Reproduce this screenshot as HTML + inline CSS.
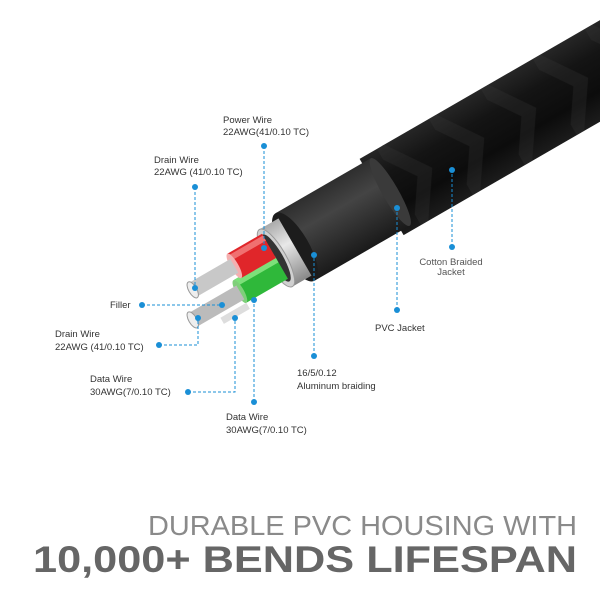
<!DOCTYPE html>
<html><head><style>
html,body{margin:0;padding:0;background:#fff;width:600px;height:600px;overflow:hidden}
svg{display:block}
text{font-family:"Liberation Sans",sans-serif}
</style></head><body>
<svg width="600" height="600" viewBox="0 0 600 600" xmlns="http://www.w3.org/2000/svg">
<defs>
<linearGradient id="braid" x1="0" y1="-44" x2="0" y2="44" gradientUnits="userSpaceOnUse">
<stop offset="0" stop-color="#262626"/><stop offset="0.3" stop-color="#141414"/><stop offset="0.7" stop-color="#0c0c0c"/><stop offset="1" stop-color="#1c1c1c"/></linearGradient>
<linearGradient id="pvc" x1="0" y1="-39" x2="0" y2="39" gradientUnits="userSpaceOnUse">
<stop offset="0" stop-color="#2e2e2e"/><stop offset="0.35" stop-color="#444"/><stop offset="0.75" stop-color="#2a2a2a"/><stop offset="1" stop-color="#1a1a1a"/></linearGradient>
<linearGradient id="al" x1="0" y1="-33" x2="0" y2="33" gradientUnits="userSpaceOnUse">
<stop offset="0" stop-color="#aaa"/><stop offset="0.4" stop-color="#e8e8e8"/><stop offset="1" stop-color="#888"/></linearGradient>
<pattern id="weave" width="60" height="88" patternUnits="userSpaceOnUse" y="-44">
<path d="M0 0 L30 44 L0 88" fill="none" stroke="#3a3a3a" stroke-width="14" opacity="0.25"/>
</pattern>
</defs>
<g transform="translate(295,247) rotate(-30)">
  <rect x="100" y="-44" width="400" height="88" fill="url(#braid)"/>
  <rect x="100" y="-44" width="400" height="88" fill="url(#weave)"/>
  <rect x="0" y="-39" width="110" height="78" fill="url(#pvc)"/>
  <ellipse cx="110" cy="0" rx="8" ry="39" fill="#3a3a3a"/>
  <ellipse cx="0" cy="0" rx="14" ry="39" fill="#1c1c1c"/>
  <rect x="-22" y="-33" width="22" height="66" fill="url(#al)"/>
  <ellipse cx="-22" cy="0" rx="10" ry="33" fill="#d0d0d0" stroke="#999"/>
  <ellipse cx="-22" cy="0" rx="7" ry="27" fill="#333"/>
  <!-- wires -->
  <rect x="-70" y="-2" width="48" height="26" fill="#2fb83a"/>
  <rect x="-70" y="-2" width="48" height="7" fill="#7de07a"/>
  <ellipse cx="-70" cy="11" rx="4" ry="13" fill="#7fcf7a"/>
  <rect x="-62" y="-28" width="40" height="28" fill="#e0262a"/>
  <rect x="-62" y="-26" width="40" height="6" fill="#f07070"/>
  <ellipse cx="-62" cy="-14" rx="4" ry="14" fill="#f4b0b0"/>
  <rect x="-110" y="-22" width="48" height="16" fill="#c8c8c8"/>
  <ellipse cx="-110" cy="-14" rx="4" ry="9" fill="#eee" stroke="#999"/>
  <rect x="-125" y="4" width="55" height="16" fill="#bbb"/>
  <ellipse cx="-125" cy="12" rx="4" ry="9" fill="#eee" stroke="#999"/>
  <rect x="-100" y="24" width="30" height="7" fill="#ddd"/>
</g>
<g stroke="#1a8fd6" stroke-width="1" stroke-dasharray="3,2" fill="none">
  <path d="M264 146 V248"/>
  <path d="M195 187 V288"/>
  <path d="M142 305 H222"/>
  <path d="M159 345 H198 V318"/>
  <path d="M188 392 H235 V318"/>
  <path d="M254 402 V300"/>
  <path d="M314 356 V255"/>
  <path d="M397 310 V208"/>
  <path d="M452 247 V170"/>
</g>
<g fill="#1a8fd6">
  <circle cx="264" cy="146" r="3"/><circle cx="264" cy="248" r="3"/>
  <circle cx="195" cy="187" r="3"/><circle cx="195" cy="288" r="3"/>
  <circle cx="142" cy="305" r="3"/><circle cx="222" cy="305" r="3"/>
  <circle cx="159" cy="345" r="3"/><circle cx="198" cy="318" r="3"/>
  <circle cx="188" cy="392" r="3"/><circle cx="235" cy="318" r="3"/>
  <circle cx="254" cy="402" r="3"/><circle cx="254" cy="300" r="3"/>
  <circle cx="314" cy="356" r="3"/><circle cx="314" cy="255" r="3"/>
  <circle cx="397" cy="310" r="3"/><circle cx="397" cy="208" r="3"/>
  <circle cx="452" cy="247" r="3"/><circle cx="452" cy="170" r="3"/>
</g>
<g font-size="9.5" fill="#333">
  <text x="223" y="123">Power  Wire</text><text x="223" y="135">22AWG(41/0.10 TC)</text>
  <text x="154" y="163">Drain Wire</text><text x="154" y="175">22AWG (41/0.10 TC)</text>
  <text x="110" y="308">Filler</text>
  <text x="55" y="337">Drain Wire</text><text x="55" y="350">22AWG (41/0.10 TC)</text>
  <text x="90" y="382">Data Wire</text><text x="90" y="395">30AWG(7/0.10 TC)</text>
  <text x="226" y="420">Data Wire</text><text x="226" y="433">30AWG(7/0.10 TC)</text>
  <text x="297" y="376">16/5/0.12</text><text x="297" y="389">Aluminum braiding</text>
  <text x="375" y="331">PVC Jacket</text>
  <text x="451" y="265" text-anchor="middle" fill="#555">Cotton Braided</text>
  <text x="451" y="275" text-anchor="middle" fill="#555">Jacket</text>
</g>
<text x="148" y="535" font-size="28" fill="#8a8a8a" textLength="429" lengthAdjust="spacingAndGlyphs">DURABLE PVC HOUSING WITH</text>
<text x="33" y="572" font-size="37" font-weight="bold" fill="#666" textLength="544" lengthAdjust="spacingAndGlyphs">10,000+ BENDS LIFESPAN</text>
</svg>
</body></html>
